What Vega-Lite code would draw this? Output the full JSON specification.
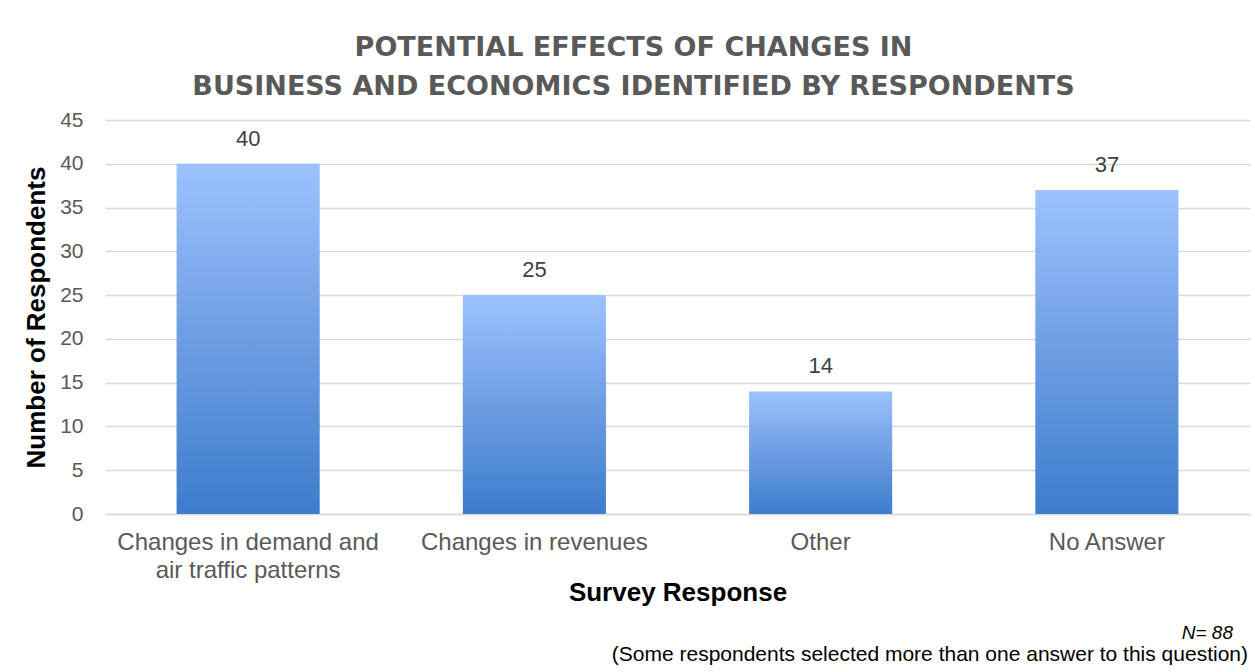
{
  "$schema": "https://vega.github.io/schema/vega-lite/v6.json",
  "autosize": "none",
  "width": 1145,
  "height": 394,
  "padding": {"left": 105, "top": 120, "right": 5, "bottom": 158},
  "background": "white",
  "title": {
    "text": ["POTENTIAL EFFECTS OF CHANGES IN", "BUSINESS AND ECONOMICS IDENTIFIED BY RESPONDENTS"],
    "font": "DejaVu Sans",
    "fontSize": 27,
    "fontWeight": "bold",
    "color": "#595959",
    "anchor": "middle",
    "frame": "group",
    "dx": -44,
    "dy": 38,
    "lineHeight": 39,
    "baseline": "alphabetic",
    "offset": 25
  },
  "data": {
    "values": [
      {"response": "Changes in demand and air traffic patterns", "count": 40},
      {"response": "Changes in revenues", "count": 25},
      {"response": "Other", "count": 14},
      {"response": "No Answer", "count": 37}
    ]
  },
  "config": {
    "view": {"stroke": null},
    "font": "Liberation Sans"
  },
  "encoding": {
    "x": {
      "field": "response",
      "type": "nominal",
      "sort": null,
      "scale": {"paddingInner": 0.5, "paddingOuter": 0.25},
      "axis": {
        "title": "Survey Response",
        "titleFont": "Liberation Sans",
        "titleFontSize": 26,
        "titleFontWeight": "bold",
        "titleColor": "#000000",
        "titlePadding": -3,
        "labelAngle": 0,
        "labelFont": "Liberation Sans",
        "labelFontSize": 24,
        "labelColor": "#595959",
        "labelPadding": 16,
        "labelLimit": 400,
        "labelLineHeight": 28,
        "labelExpr": "datum.label == 'Changes in demand and air traffic patterns' ? ['Changes in demand and', 'air traffic patterns'] : datum.label",
        "ticks": false,
        "domainColor": "#D9D9D9",
        "domainWidth": 1.5
      }
    },
    "y": {
      "field": "count",
      "type": "quantitative",
      "scale": {"domain": [0, 45], "nice": false},
      "axis": {
        "title": "Number of Respondents",
        "titleFont": "Liberation Sans",
        "titleFontSize": 26,
        "titleFontWeight": "bold",
        "titleColor": "#000000",
        "titlePadding": 10,
        "values": [0, 5, 10, 15, 20, 25, 30, 35, 40, 45],
        "labelFont": "Liberation Sans",
        "labelFontSize": 21,
        "labelColor": "#595959",
        "labelPadding": 22,
        "ticks": false,
        "domain": false,
        "gridColor": "#D9D9D9",
        "gridWidth": 1.5
      }
    }
  },
  "layer": [
    {
      "mark": {
        "type": "bar",
        "color": {
          "gradient": "linear",
          "x1": 0, "y1": 1, "x2": 0, "y2": 0,
          "stops": [
            {"offset": 0, "color": "#3D7DCD"},
            {"offset": 0.5, "color": "#6D9DE2"},
            {"offset": 1, "color": "#9CC2FF"}
          ]
        }
      }
    },
    {
      "mark": {"type": "text", "baseline": "alphabetic", "dy": -18, "fontSize": 22, "color": "#404040", "font": "Liberation Sans"},
      "encoding": {"text": {"field": "count", "type": "quantitative"}}
    },
    {
      "data": {"values": [{"note": "N= 88"}]},
      "mark": {"type": "text", "align": "right", "baseline": "alphabetic", "fontSize": 19, "fontStyle": "italic", "color": "#000000", "font": "Liberation Sans"},
      "encoding": {
        "x": {"value": {"expr": "width - 17"}},
        "y": {"value": {"expr": "height + 125"}},
        "text": {"field": "note", "type": "nominal"}
      }
    },
    {
      "data": {"values": [{"note": "(Some respondents selected more than one answer to this question)"}]},
      "mark": {"type": "text", "align": "right", "baseline": "alphabetic", "fontSize": 21, "color": "#000000", "font": "Liberation Sans"},
      "encoding": {
        "x": {"value": {"expr": "width - 2"}},
        "y": {"value": {"expr": "height + 147"}},
        "text": {"field": "note", "type": "nominal"}
      }
    }
  ]
}
